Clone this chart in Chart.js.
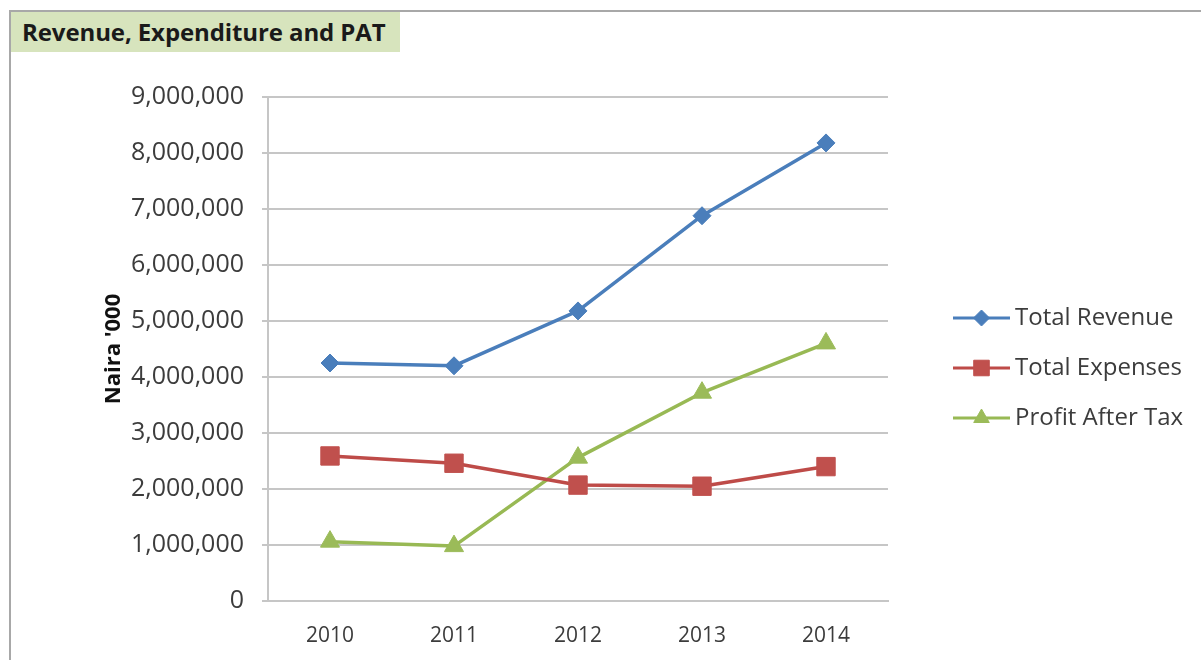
<!DOCTYPE html>
<html lang="en">
  <head>
    <meta charset="UTF-8" />
    <meta name="viewport" content="width=device-width, initial-scale=1.0" />
    <title>Revenue, Expenditure and PAT</title>
    <script src="https://cdn.jsdelivr.net/npm/chart.js"></script>
    <style>
      body {
        margin: 0;
        background-color: #ffffff;
        font-family: "Open Sans", Arial, sans-serif;
      }
      .frame {
        position: absolute;
        left: 9px;
        top: 10px;
        width: 1192px;
        height: 650px;
        border-top: 2px solid #a8a8a8;
        border-left: 2px solid #a8a8a8;
      }
      .chart-title {
        position: absolute;
        left: 0;
        top: 0;
        width: 378px;
        height: 40px;
        padding-left: 11px;
        background-color: #d7e4bd;
        color: #1a1a1a;
        font-weight: bold;
        font-size: 24px;
        letter-spacing: -0.1px;
        line-height: 40px;
        white-space: nowrap;
      }
      canvas {
        position: absolute;
        left: 0;
        top: 0;
      }
    </style>
  </head>
  <body>
    <div class="frame">
      <div class="chart-title">Revenue, Expenditure and PAT</div>
    </div>
    <canvas id="lineChart" width="1201" height="660"></canvas>

    <script>
      // figures in Naira '000
      const years = ["2010", "2011", "2012", "2013", "2014"];
      const totalRevenue = [4250000, 4200000, 5180000, 6880000, 8180000];
      const totalExpenses = [2590000, 2460000, 2070000, 2050000, 2400000];
      const profitAfterTax = [1060000, 980000, 2560000, 3720000, 4600000];
      const yTicks = [0, 1000000, 2000000, 3000000, 4000000, 5000000, 6000000, 7000000, 8000000, 9000000];

      const gridColor = "#c6c6c6";
      const textColor = "#3c3c3c";
      const fontFamily = '"Open Sans", Arial, sans-serif';

      // legend with a short line and the marker on it, like a spreadsheet chart
      const lineLegend = {
        id: "lineLegend",
        afterDraw(chart) {
          const ctx = chart.ctx;
          const x0 = 953;
          const x1 = 1010;
          const rowTop = 318;
          const rowGap = 50;
          ctx.save();
          chart.data.datasets.forEach((ds, i) => {
            const y = rowTop + i * rowGap;
            ctx.strokeStyle = ds.borderColor;
            ctx.lineWidth = 3;
            ctx.beginPath();
            ctx.moveTo(x0, y);
            ctx.lineTo(x1, y);
            ctx.stroke();
            ctx.fillStyle = ds.pointBackgroundColor;
            ctx.strokeStyle = ds.pointBorderColor;
            ctx.lineWidth = 1;
            Chart.helpers.drawPoint(
              ctx,
              { pointStyle: ds.pointStyle, radius: ds.legendRadius, rotation: 0, borderWidth: 1 },
              (x0 + x1) / 2,
              y
            );
            ctx.fillStyle = textColor;
            ctx.font = "24px " + fontFamily;
            ctx.textBaseline = "middle";
            ctx.textAlign = "left";
            ctx.fillText(ds.label, x1 + 5, y);
          });
          ctx.restore();
        },
      };

      const data = {
        labels: years,
        datasets: [
          {
            label: "Total Revenue",
            data: totalRevenue,
            borderColor: "#4a7ebb",
            pointBackgroundColor: "#4a7ebb",
            pointBorderColor: "#4a7ebb",
            pointStyle: "rectRot",
            pointRadius: 9,
            legendRadius: 8,
          },
          {
            label: "Total Expenses",
            data: totalExpenses,
            borderColor: "#be4b48",
            pointBackgroundColor: "#c0504d",
            pointBorderColor: "#c0504d",
            pointStyle: "rect",
            pointRadius: 13,
            legendRadius: 11,
          },
          {
            label: "Profit After Tax",
            data: profitAfterTax,
            borderColor: "#98b954",
            pointBackgroundColor: "#9bbb59",
            pointBorderColor: "#9bbb59",
            pointStyle: "triangle",
            pointRadius: 11,
            legendRadius: 9,
          },
        ],
      };

      const config = {
        type: "line",
        data: data,
        options: {
          responsive: false,
          animation: false,
          layout: {
            padding: { top: 97, right: 313, bottom: 12, left: 101 },
          },
          elements: {
            line: { borderWidth: 3.5, tension: 0, borderJoinStyle: "round" },
            point: { borderWidth: 1, hoverRadius: 10 },
          },
          plugins: {
            legend: { display: false },
            title: { display: false },
            tooltip: { enabled: true },
          },
          scales: {
            x: {
              offset: true,
              afterFit(scale) {
                scale.height = 47;
              },
              grid: { display: false, drawTicks: false },
              border: { color: gridColor, width: 2 },
              ticks: {
                color: textColor,
                padding: 22,
                font: { family: fontFamily, size: 21 },
              },
            },
            y: {
              min: 0,
              max: 9000000,
              afterFit(scale) {
                scale.width = 167;
              },
              afterBuildTicks(scale) {
                scale.ticks = yTicks.map((v) => ({ value: v }));
              },
              grid: { color: gridColor, lineWidth: 2, tickLength: 6 },
              border: { color: gridColor, width: 2 },
              title: {
                display: true,
                text: "Naira '000",
                color: "#111111",
                padding: 0,
                font: { family: fontFamily, size: 22, weight: "bold" },
              },
              ticks: {
                color: textColor,
                padding: 18,
                font: { family: fontFamily, size: 25 },
                callback: (v) => v.toLocaleString("en-US"),
              },
            },
          },
        },
        plugins: [lineLegend],
      };

      new Chart(document.getElementById("lineChart"), config);
    </script>
  </body>
</html>
